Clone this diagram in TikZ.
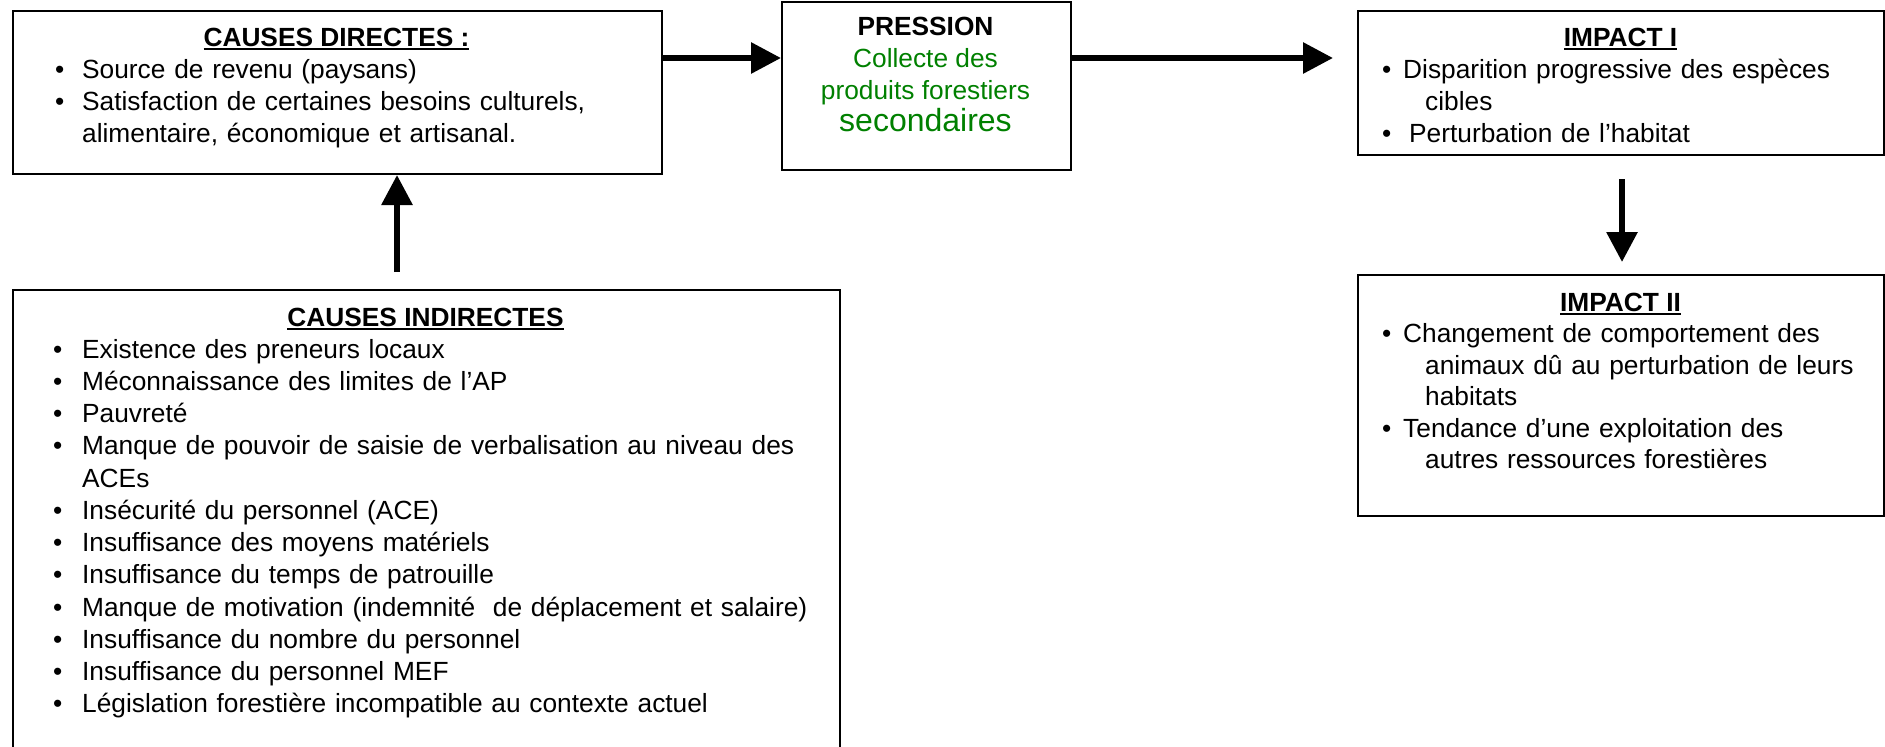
\documentclass[tikz,border=0pt]{standalone}
\usepackage{fontspec}
\setmainfont{Liberation Sans}
\usetikzlibrary{arrows.meta,calc}
\definecolor{leafgreen}{RGB}{0,128,0}

% body text size and line pitch
\newcommand\bodyfont{\fontsize{26.3}{32.25}\selectfont}
% underlined heading
\newlength\headw
\newcommand\headul[1]{\settowidth\headw{#1}\rlap{\rule[-4pt]{\headw}{2pt}}#1}
% bullet item: #1 bullet box width, #2 hanging indent, #3 text
\newcommand\bitem[3]{\hangindent=#2\hangafter=1\noindent\makebox[#1][l]{\strut\textbullet}#3\par}

\tikzset{
  panel/.style={draw=black, line width=2pt, inner sep=0pt, anchor=north west},
  heading/.style={anchor=base, inner sep=0pt, font=\bodyfont\bfseries},
  listtext/.style={anchor=north west, inner sep=0pt, align=left, text width=#1, font=\bodyfont},
  greenline/.style={anchor=base, inner sep=0pt, text=leafgreen, font=\bodyfont},
  flow/.style={line width=6pt, -{Triangle[length=30pt,width=30pt]}},
}

\begin{document}
\begin{tikzpicture}[x=1pt,y=-1pt]
\useasboundingbox (0,0) rectangle (1885,747);
\clip (0,0) rectangle (1885,747);

% boxes
\node[panel, minimum width=649pt, minimum height=163pt] (direct) at (12,10) {};
\node[panel, minimum width=289pt, minimum height=168pt] (press) at (781,1) {};
\node[panel, minimum width=526pt, minimum height=144pt] (imp1) at (1357,10) {};
\node[panel, minimum width=526pt, minimum height=241pt] (imp2) at (1357,274) {};
\node[panel, minimum width=827pt, minimum height=520pt] (indirect) at (12,289) {};

% causes directes
\node[heading] (directtitle) at (336.5,46) {\headul{CAUSES DIRECTES :}};
\node[listtext=620pt] (directlist) at (55,55.4) {%
  \bitem{27pt}{27pt}{Source de revenu (paysans)}%
  \bitem{27pt}{27pt}{Satisfaction de certaines besoins culturels,\newline alimentaire, économique et artisanal.}};

% pression
\node[heading] (presstitle) at (925.5,35) {PRESSION};
\node[greenline] (press1) at (925.5,67) {Collecte des};
\node[greenline] (press2) at (925.5,99) {produits forestiers};
\node[greenline, font=\fontsize{32}{38}\selectfont] (press3) at (925.5,131) {secondaires};

% impact I
\node[heading] (imp1title) at (1620.5,46) {\headul{IMPACT I}};
\node[listtext=490pt] (imp1list) at (1382,55.4) {%
  \bitem{21pt}{43pt}{Disparition progressive des espèces\newline cibles}%
  \bitem{21pt}{43pt}{\hspace{6pt}Perturbation de l’habitat}};

% impact II
\node[heading] (imp2title) at (1620.5,311) {\headul{IMPACT II}};
\node[listtext=490pt, font=\fontsize{26.3}{31.5}\selectfont] (imp2list) at (1382,320.4) {%
  \bitem{21pt}{43pt}{Changement de comportement des\newline animaux dû au perturbation de leurs\newline habitats}%
  \bitem{21pt}{43pt}{Tendance d’une exploitation des\newline autres ressources forestières}};

% causes indirectes
\node[heading] (indtitle) at (425.5,326) {\headul{CAUSES INDIRECTES}};
\node[listtext=780pt] (indlist) at (53,335.4) {%
  \bitem{29pt}{29pt}{Existence des preneurs locaux}%
  \bitem{29pt}{29pt}{Méconnaissance des limites de l’AP}%
  \bitem{29pt}{29pt}{Pauvreté}%
  \bitem{29pt}{29pt}{Manque de pouvoir de saisie de verbalisation au niveau des\newline ACEs}%
  \bitem{29pt}{29pt}{Insécurité du personnel (ACE)}%
  \bitem{29pt}{29pt}{Insuffisance des moyens matériels}%
  \bitem{29pt}{29pt}{Insuffisance du temps de patrouille}%
  \bitem{29pt}{29pt}{Manque de motivation (indemnité~ de déplacement et salaire)}%
  \bitem{29pt}{29pt}{Insuffisance du nombre du personnel}%
  \bitem{29pt}{29pt}{Insuffisance du personnel MEF}%
  \bitem{29pt}{29pt}{Législation forestière incompatible au contexte actuel}};

% connectors
\coordinate (row) at (0,58);
\coordinate (downcol) at (1622,0);
\coordinate (upcol) at (397,0);
\draw[flow] (direct.east |- row) -- (press.west |- row);
\draw[flow, shorten >=24pt] (press.east |- row) -- (imp1.west |- row);
\draw[flow, shorten <=23pt, shorten >=12pt] (imp1.south -| downcol) -- (imp2.north -| downcol);
\draw[flow, shorten <=17pt] (indirect.north -| upcol) -- (direct.south -| upcol);
\end{tikzpicture}
\end{document}
